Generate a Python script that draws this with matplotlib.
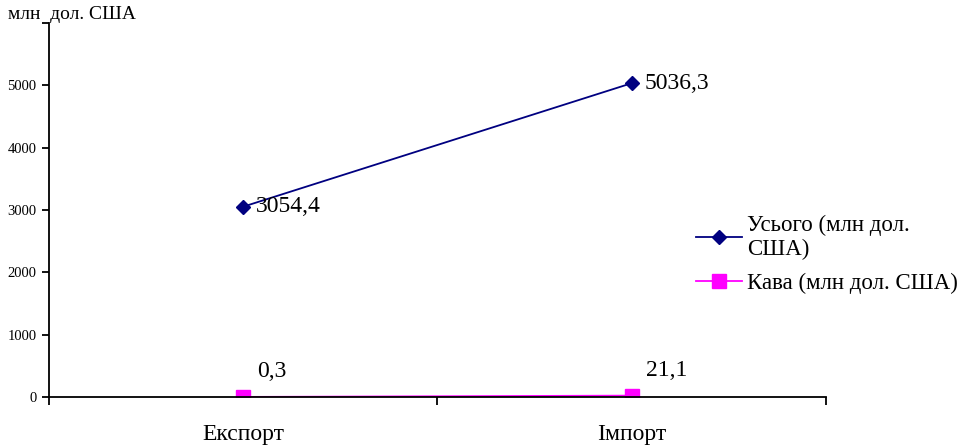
import matplotlib
matplotlib.use("Agg")
import matplotlib.pyplot as plt
from matplotlib.ticker import NullLocator

categories = ["Експорт", "Імпорт"]
total = [3054.4, 5036.3]
coffee = [0.3, 21.1]
total_labels = ["3054,4", "5036,3"]
coffee_labels = ["0,3", "21,1"]
yticks = [0, 1000, 2000, 3000, 4000, 5000, 6000]

plt.rcParams['font.family'] = ['Liberation Serif', 'DejaVu Serif']

fig = plt.figure(figsize=(9.65, 4.46), dpi=100)
ax = fig.add_axes([0.0508, 0.110, 0.805, 0.838])

xs = [0.5, 1.5]
ax.plot(xs, total, color="#000080", marker="D", markersize=7.5, lw=1.3,
        label="Усього (млн дол.\nСША)")
ax.plot(xs, coffee, color="#FF00FF", marker="s", markersize=9.5, lw=1.3,
        label="Кава (млн дол. США)")

for x, y, t in zip(xs, total, total_labels):
    ax.annotate(t, (x, y), xytext=(9, 0), textcoords="offset points",
                ha="left", va="center", fontsize=17)
for x, y, t in zip(xs, coffee, coffee_labels):
    ax.annotate(t, (x, y), xytext=(10, 18), textcoords="offset points",
                ha="left", va="center", fontsize=17)

ax.set_xlim(0, 2)
ax.set_ylim(0, 6000)
ax.set_yticks(yticks)
# top label is hidden under the unit caption in the reference
ax.set_yticklabels([str(v) for v in yticks[:-1]] + [""], fontsize=10.5)
ax.set_xticks([0, 1, 2])
ax.set_xticklabels([])
ax.xaxis.set_minor_locator(NullLocator())
for x, c in zip(xs, categories):
    ax.text(x, -0.1, c, transform=ax.get_xaxis_transform(),
            ha="center", va="center", fontsize=17)

ax.spines["top"].set_visible(False)
ax.spines["right"].set_visible(False)
ax.spines["left"].set_linewidth(1.3)
ax.spines["bottom"].set_linewidth(1.3)
ax.tick_params(axis="y", direction="out", length=5, width=1.3, pad=4)
ax.tick_params(axis="x", direction="out", length=6, width=1.3)

fig.text(0.008, 0.968, "млн  дол. США", fontsize=14, ha="left", va="center")

ax.legend(loc="center left", bbox_to_anchor=(0.721, 0.43),
          bbox_transform=fig.transFigure, frameon=False, fontsize=16.5,
          handlelength=2.0, handletextpad=0.25, labelspacing=0.55,
          borderaxespad=0, borderpad=0)

fig.savefig("out.png", dpi=100, facecolor="white")
